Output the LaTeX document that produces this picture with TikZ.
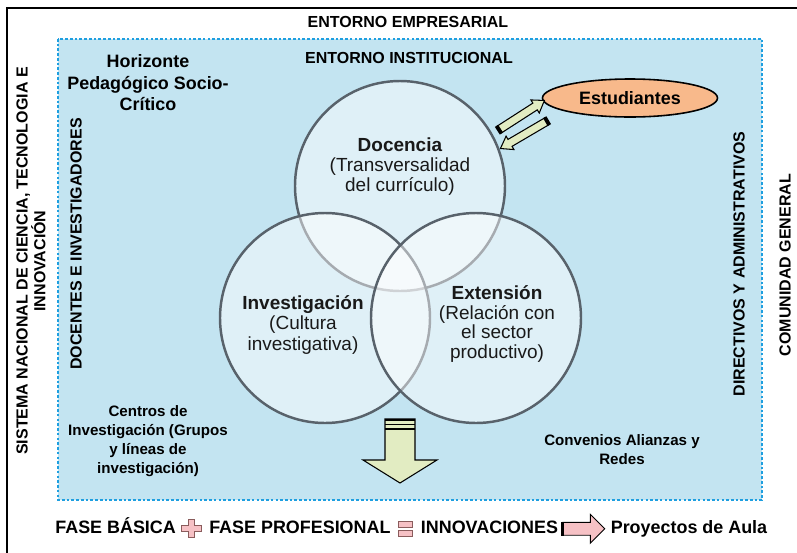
\documentclass[tikz,border=0pt]{standalone}
\usepackage{fontspec}
\setmainfont{Liberation Sans}
\usetikzlibrary{positioning,shapes.geometric,shapes.arrows}
\definecolor{fondo}{HTML}{C3E4F1}
\definecolor{borde}{HTML}{1E9FE0}
\definecolor{circulo}{HTML}{58626B}
\definecolor{naranja}{HTML}{F8B98B}
\definecolor{verdoso}{HTML}{E2ECC2}
\definecolor{rosa}{HTML}{F6C1C5}
\definecolor{rosaborde}{HTML}{8A5C5C}
\tikzset{
    rotulo/.style={font=\fontsize{9.1}{10.2}\selectfont\bfseries, inner sep=0pt, align=center},
    venn/.style={circle, draw=circulo, line width=1.4pt, fill=white, fill opacity=0.47,
        draw opacity=1, minimum size=42mm, inner sep=0pt},
    vtexto/.style={align=center, font=\fontsize{10.8}{11.4}\selectfont, inner sep=0pt, text=black!90},
    flecha/.style={single arrow, draw=black, fill=verdoso, line width=0.6pt, inner sep=0.7mm,
        minimum height=10.7mm, single arrow head extend=0.75mm, single arrow tip angle=70},
    leyenda/.style={font=\fontsize{10.2}{12}\selectfont\bfseries, inner sep=0pt,
        text height=2.7mm, text depth=1mm},
    hueco/.style={inner sep=0pt, minimum width=4mm, minimum height=3.6mm},
    simbolo/.style={draw=rosaborde, fill=rosa, line width=0.5pt},
    nota/.style={align=center, font=\fontsize{8.6}{10.8}\selectfont\bfseries, inner sep=0pt}
}
\begin{document}
\begin{tikzpicture}[x=0.2mm, y=-0.2mm]
    \useasboundingbox (0,0) rectangle (797,553);

            %%draw the frames
            \draw[line width=1.7pt] (7,553) -- (7,8) -- (797,8);
            \fill[fondo] (58,39) rectangle (762,500);
            \draw[borde, line width=1.4pt, dash pattern=on 1.5pt off 1.2pt] (58,39) rectangle (762,500);

            %%labels round the frames
            \node[rotulo] (empresarial) at (408,22) {ENTORNO EMPRESARIAL};
            \node[rotulo] (institucional) at (409,58) {ENTORNO INSTITUCIONAL};
            \node[rotulo, rotate=90] (sistema) at (31,261) {SISTEMA NACIONAL DE CIENCIA, TECNOLOGIA E\\INNOVACIÓN};
            \node[rotulo, rotate=90] (docentes) at (76,244) {DOCENTES E INVESTIGADORES};
            \node[rotulo, rotate=90] (directivos) at (739,264) {DIRECTIVOS Y ADMINISTRATIVOS};
            \node[rotulo, rotate=90] (comunidad) at (785,265) {COMUNIDAD GENERAL};
            \node[rotulo, font=\fontsize{10.2}{12.2}\selectfont\bfseries] (horizonte) at (148,83)
                {Horizonte\\Pedagógico Socio-\\Crítico};

            %%draw the circles
            \node[venn] (docencia) at (400,186) {};
            \node[venn] (investigacion) at (325,318) {};
            \node[venn] (extension) at (476,318) {};
                \node[vtexto] (tdocencia) at (400,167) {\textbf{Docencia}\\(Transversalidad\\del currículo)};
                \node[vtexto, font=\fontsize{10.8}{11.9}\selectfont] (tinvestigacion) at (303,325)
                    {\textbf{Investigación}\\(Cultura\\investigativa)};
                \node[vtexto, font=\fontsize{10.8}{11.1}\selectfont] (textension) at (497,324)
                    {\textbf{Extensión}\\(Relación con\\el sector\\productivo)};

            %%students and the two arrows
            \node[ellipse, draw, fill=naranja, line width=0.9pt, minimum width=35mm, minimum height=7.6mm,
                inner sep=0pt, font=\fontsize{10.2}{12}\selectfont\bfseries] (estudiantes) at (630,98) {Estudiantes};
            \node[flecha, rotate=32.8] (ida) at (519.5,116.5) {};
            \node[flecha, rotate=210.4] (vuelta) at (526,133.5) {};
                \draw[line width=2.2pt] (ida.before tail) -- (ida.after tail);
                \draw[line width=2.2pt] (vuelta.before tail) -- (vuelta.after tail);

            %%arrow going down
            \draw[fill=verdoso, line width=0.6pt] (385,419) -- (415,419) -- (415,460) -- (437,460)
                -- (400,483) -- (363,460) -- (385,460) -- cycle;
            \foreach \yy in {420,424.5,429}
                \draw[line width=1.1pt] (385,\yy) -- (415,\yy);

            %%notes at the bottom
            \node[nota] (centros) at (148,441) {Centros de\\Investigación (Grupos\\y líneas de\\investigación)};
            \node[nota] (convenios) at (622,450) {Convenios Alianzas y\\Redes};

            %%legend
            \node[leyenda, anchor=base west] (basica) at (55,533) {FASE BÁSICA};
            \node[hueco, right=1mm of basica] (mas) {};
                \draw[simbolo] (mas.center) ++(-10,-3) -- ++(7,0) -- ++(0,-6) -- ++(6,0) -- ++(0,6) -- ++(7,0)
                    -- ++(0,6) -- ++(-7,0) -- ++(0,6) -- ++(-6,0) -- ++(0,-6) -- ++(-7,0) -- cycle;
            \node[leyenda, right=1.4mm of mas] (profesional) {FASE PROFESIONAL};
            \node[hueco, minimum width=3mm, right=1.4mm of profesional] (igual) {};
                \draw[simbolo] (igual.center) ++(-7,-7.5) rectangle ++(14,6);
                \draw[simbolo] (igual.center) ++(-7,1.5) rectangle ++(14,6);
            \node[leyenda, right=1.4mm of igual] (innovaciones) {INNOVACIONES};
            \node[single arrow, draw=black, fill=rosa, line width=0.5pt, inner sep=1.2mm, minimum height=8.4mm,
                single arrow head extend=1.6mm, right=0.8mm of innovaciones] (aula) {};
                \draw[line width=2pt] (aula.before tail) -- (aula.after tail);
            \node[leyenda, right=1mm of aula] (proyectos) {Proyectos de Aula};
        \end{tikzpicture}
\end{document}
